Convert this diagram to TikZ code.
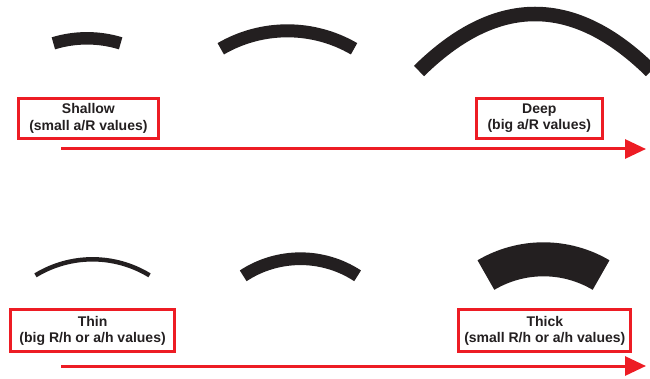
\documentclass[tikz,border=0pt]{standalone}
\usepackage{fontspec}
\setmainfont{Liberation Sans}
\usetikzlibrary{arrows.meta}
\definecolor{ink}{RGB}{35,31,32}
\definecolor{alert}{RGB}{237,28,36}
\begin{document}
\begin{tikzpicture}[x=1pt,y=-1pt,
  shell/.style={draw=ink, line cap=butt},
  labelbox/.style={draw=alert, line width=3pt, inner sep=0pt, align=center,
    font=\fontsize{14}{16.5}\selectfont\bfseries, text=ink},
  trend/.style={draw=alert, line width=3pt, -{Triangle[length=21pt,width=19pt]}}]
\useasboundingbox (0,0) rectangle (650,379);
\clip (0,0) rectangle (650,379);

% Curvature row: shells from shallow to deep
\draw[shell, line width=12.5pt] ([shift={(87,153.3)}]-107:115) arc[start angle=-107, end angle=-73, radius=115];
\draw[shell, line width=13pt] ([shift={(287.4,163.3)}]-120.2:132.5) arc[start angle=-120.2, end angle=-59.8, radius=132.5];
\draw[shell, line width=14.5pt] (419,71) .. controls (496.3,-5) and (573.7,-5) .. (651,71);

% Thickness row: shells from thin to thick
\draw[shell, line width=4.5pt] ([shift={(92.5,368.8)}]-121.4:109.5) arc[start angle=-121.4, end angle=-58.6, radius=109.5];
\draw[shell, line width=12.7pt] ([shift={(300.4,362.9)}]-123.3:104.2) arc[start angle=-123.3, end angle=-56.7, radius=104.2];
\draw[shell, line width=34pt] ([shift={(543.5,372.4)}]-120.6:113.1) arc[start angle=-120.6, end angle=-59.4, radius=113.1];

% Labels
\node[labelbox, minimum width=139.2pt, minimum height=40.5pt] (shallow) at (88.4,118.3) {Shallow\\(small a/R values)};
\node[labelbox, minimum width=126.3pt, minimum height=40.5pt] (deep) at (539.3,118.3) {Deep\\(big a/R values)};
\node[labelbox, minimum width=164.1pt, minimum height=42pt] (thin) at (92.6,330.8) {Thin\\(big R/h or a/h values)};
\node[labelbox, minimum width=172pt, minimum height=42pt] (thick) at (544.8,330.8) {Thick\\(small R/h or a/h values)};

% Trend arrows
\coordinate (topstart) at (61,149);
\coordinate (topend) at (646,149);
\coordinate (botstart) at (61,366);
\coordinate (botend) at (646,366);
\draw[trend] (topstart) -- (topend);
\draw[trend] (botstart) -- (botend);
\end{tikzpicture}
\end{document}
